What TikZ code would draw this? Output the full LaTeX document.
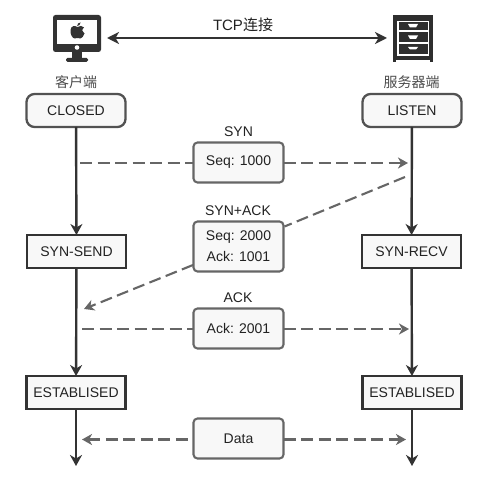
\documentclass[tikz,border=0pt]{standalone}
\usepackage{fontspec}
\setmainfont{Liberation Sans}
\newfontfamily\cjkf{Noto Sans CJK SC}
\usetikzlibrary{arrows.meta}
\definecolor{ink}{HTML}{333333}
\definecolor{dashc}{HTML}{666666}
\definecolor{txt}{HTML}{222222}
\definecolor{boxfill}{HTML}{F8F8F8}
\tikzset{
  x=1pt,y=-1pt,
  every node/.style={font=\fontsize{14}{18}\selectfont,text=txt,inner sep=0pt,outer sep=0pt},
  statebox/.style={draw=ink,line width=2.3pt,fill=boxfill,minimum width=99pt,minimum height=33pt},
  roundstate/.style={statebox,rounded corners=8pt,draw=ink!85},
  msgbox/.style={draw=dashc,line width=2.1pt,fill=boxfill,rounded corners=4pt,minimum width=90pt,align=center},
  flow/.style={draw=ink,line width=2.4pt,-{Stealth[length=11pt,width=12pt,inset=3.5pt]}},
  msgline/.style={draw=dashc,line width=2.1pt,dash pattern=on 12pt off 5.5pt},
  msgarrow/.style={msgline,-{Stealth[length=10pt,width=11pt,inset=3pt,color=dashc,sep=0pt]}},
  msgback/.style={msgline,{Stealth[length=10pt,width=11pt,inset=3pt,color=dashc]}-},
  iconcap/.style={font=\cjkf\fontsize{14}{16}\selectfont,text=black!70},
}
\begin{document}
\begin{tikzpicture}
\useasboundingbox[fill=white] (0,0) rectangle (486,486);
% monitor icon
\fill[ink,rounded corners=2.5pt] (53,15) rectangle (101,52);
\fill[white] (57,20) rectangle (97,44);
\fill[white] (77,47.5) circle (2.3);
\fill[ink] (72,52) rectangle (82,58);
\fill[ink,rounded corners=1.5pt] (66,58) rectangle (88,62);
\fill[ink] (77.5,27) .. controls (75,25.5) and (71,25.5) .. (70.5,30)
  .. controls (70,34) and (72.5,38.5) .. (74.5,38.5)
  .. controls (76,38.5) and (76.5,38) .. (77.5,38)
  .. controls (78.5,38) and (79,38.5) .. (80.5,38.5)
  .. controls (82,38.5) and (83.5,36) .. (84.5,33.5)
  .. controls (82,32.5) and (81.5,29) .. (84,27.5)
  .. controls (82.5,25.5) and (79.5,25.5) .. (77.5,27) -- cycle;
\fill[ink] (77.2,26) .. controls (77,24) and (78.5,22.5) .. (80.5,22.5)
  .. controls (80.5,24.5) and (79,26) .. (77.2,26) -- cycle;
% server icon
\fill[ink!90!black] (393,15) rectangle (433,62);
\fill[white] (398,21) rectangle (428,22);
\fill[white] (397,30.5) rectangle (429,32.5);
\fill[white] (397,42) rectangle (429,44);
\fill[white] (397,54) rectangle (429,56);
\fill[white] (397,21) rectangle (398.5,54);
\fill[white] (427.5,21) rectangle (429,54);
\fill[white] (408,24) -- (418,24) -- (416,27.5) -- (410,27.5) -- cycle;
\fill[white] (408,35.5) -- (418,35.5) -- (416,39) -- (410,39) -- cycle;
\fill[white] (408,47) -- (418,47) -- (416,49.5) -- (410,49.5) -- cycle;
\fill[white] (396,60) rectangle (430,62);
% TCP link
\coordinate (tcpL) at (107,38);
\coordinate (tcpR) at (387,38);
\draw[ink,line width=2.4pt,{Stealth[length=12pt,width=12pt,inset=3.5pt]}-{Stealth[length=12pt,width=12pt,inset=3.5pt]}] (tcpL) -- (tcpR);
\node[font=\fontsize{15}{18}\selectfont] (tcp) at (243,25) {TCP\cjkf 连接};
\node[iconcap] (client) at (76,82.5) {客户端};
\node[iconcap] (server) at (411.5,82.5) {服务器端};
% state boxes
\node[roundstate] (closed) at (76,110.5) {CLOSED};
\node[roundstate] (listen) at (412,110.5) {LISTEN};
\node[statebox] (synsend) at (76.5,251.5) {SYN-SEND};
\node[statebox] (synrecv) at (411.5,251.5) {SYN-RECV};
\node[statebox] (estL) at (76,392.5) {ESTABLISED};
\node[statebox] (estR) at (412,392.5) {ESTABLISED};
\coordinate (endL) at (76,466);
\coordinate (endR) at (412,466);
\draw[flow] (closed) -- (synsend);
\draw[flow] (listen) -- (synrecv);
\draw[flow] (synsend) -- (estL);
\draw[flow] (synrecv) -- (estR);
\draw[flow] (estL) -- (endL);
\draw[flow] (estR) -- (endR);
% messages
\node (synlbl) at (238.5,131.5) {SYN};
\node[msgbox,minimum height=40pt] (m1) at (238.5,162.5) {Seq: 1000};
\node (sylbl) at (238,210.5) {SYN+ACK};
\node[msgbox,minimum height=50pt,font=\fontsize{14}{21}\selectfont] (m2) at (238.5,246.5) {Seq: 2000\\Ack: 1001};
\node (acklbl) at (238,297.5) {ACK};
\node[msgbox,minimum height=40pt] (m3) at (238.5,328.5) {Ack: 2001};
\node[msgbox,minimum height=40pt] (m4) at (238.5,438.5) {Data};
\coordinate (a1) at (80,163); \coordinate (b1) at (408,163);
\coordinate (a2) at (405,177); \coordinate (b2) at (84,309);
\coordinate (a3) at (82,329); \coordinate (b3) at (409,329);
\coordinate (a4) at (82,439.5); \coordinate (b4) at (406,439.5);
\draw[msgline] (a1) -- (m1.west |- a1);
\draw[msgarrow] (m1.east |- b1) -- (b1);
\draw[msgline] (a2) -- (284.5,226.5);
\draw[msgarrow] (193,265) -- (b2);
\draw[msgline] (a3) -- (m3.west |- a3);
\draw[msgarrow] (m3.east |- b3) -- (b3);
\draw[msgback] (a4) -- (m4.west |- a4);
\draw[msgarrow] (m4.east |- b4) -- (b4);
\end{tikzpicture}
\end{document}
